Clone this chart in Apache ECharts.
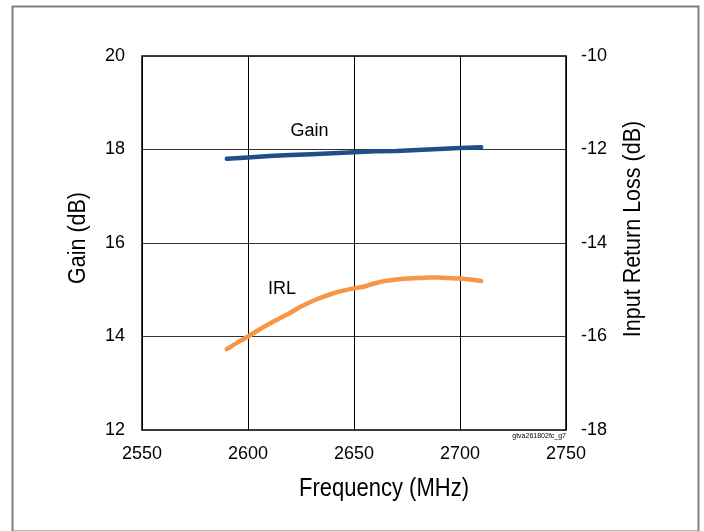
<!DOCTYPE html>
<html>
<head>
<meta charset="utf-8">
<script src="https://cdn.jsdelivr.net/npm/echarts@6/dist/echarts.min.js"></script>
<style>
  html, body { margin: 0; padding: 0; background: #fff; }
  #main { width: 704px; height: 531px; }
</style>
</head>
<body>
<div id="main"></div>
<script>
// Frequency (MHz) -> Gain (dB), left axis
var gainFreq = [2590, 2600, 2610, 2620, 2630, 2640, 2650, 2660, 2670, 2680, 2690, 2700, 2710];
var gainVal  = [17.80, 17.83, 17.86, 17.88, 17.90, 17.92, 17.94, 17.96, 17.97, 17.99, 18.01, 18.03, 18.05];

// Frequency (MHz) -> Input Return Loss (dB), right axis
var irlFreq = [2590, 2595, 2600, 2605, 2610, 2615, 2620, 2625, 2630, 2635, 2640, 2645, 2650,
               2655, 2660, 2665, 2670, 2675, 2680, 2685, 2690, 2695, 2700, 2705, 2710];
var irlVal  = [-16.27, -16.13, -16.00, -15.86, -15.73, -15.61, -15.49, -15.36, -15.25, -15.16, -15.08, -15.02, -14.97,
               -14.93, -14.86, -14.81, -14.78, -14.76, -14.75, -14.74, -14.74, -14.75, -14.76, -14.78, -14.81];

function pairs(xs, ys) {
    return xs.map(function (x, i) { return [x, ys[i]]; });
}

var font = 'Liberation Sans, Arial, sans-serif';
var myChart = echarts.init(document.getElementById('main'));

var option = {
    backgroundColor: '#fff',
    animation: false,
    grid: {
        left: 142,
        right: 138,
        top: 56,
        bottom: 101,
        show: true,
        borderColor: '#000',
        borderWidth: 1.5
    },
    xAxis: {
        type: 'value',
        min: 2550,
        max: 2750,
        interval: 50,
        axisLine: { show: false },
        axisTick: { show: false },
        axisLabel: {
            fontFamily: font, fontSize: 18, color: '#000', margin: 15,
            formatter: function (v) { return String(v); }
        },
        splitLine: { show: true, lineStyle: { color: '#000', width: 1 } }
    },
    yAxis: [
        {
            type: 'value',
            min: 12,
            max: 20,
            interval: 2,
            axisLine: { show: false },
            axisTick: { show: false },
            axisLabel: { fontFamily: font, fontSize: 18, color: '#000', margin: 17 },
            splitLine: { show: true, lineStyle: { color: '#333', width: 1 } }
        },
        {
            type: 'value',
            min: -18,
            max: -10,
            interval: 2,
            axisLine: { show: false },
            axisTick: { show: false },
            axisLabel: { fontFamily: font, fontSize: 18, color: '#000', margin: 15 },
            splitLine: { show: false }
        }
    ],
    graphic: [
        {
            type: 'rect',
            left: 10, top: 4,
            shape: { width: 686, height: 525 },
            style: { fill: 'none', stroke: '#7f7f7f', lineWidth: 2 },
            silent: true
        },
        {
            type: 'text',
            right: 138, top: 433,
            style: { text: 'gtva261802fc_g7', font: '7px ' + font, fill: '#000' }
        },
        // axis titles
        {
            type: 'text',
            x: 384, y: 489, scaleY: 1.2,
            style: { text: 'Frequency (MHz)', font: '22px ' + font, fill: '#000',
                     textAlign: 'center', textVerticalAlign: 'middle' }
        },
        {
            type: 'text',
            x: 78, y: 238, rotation: Math.PI / 2, scaleY: 1.1,
            style: { text: 'Gain (dB)', font: '21.5px ' + font, fill: '#000',
                     textAlign: 'center', textVerticalAlign: 'middle' }
        },
        {
            type: 'text',
            x: 633, y: 229, rotation: Math.PI / 2, scaleY: 1.1,
            style: { text: 'Input Return Loss (dB)', font: '21.5px ' + font, fill: '#000',
                     textAlign: 'center', textVerticalAlign: 'middle' }
        }
    ],
    series: [
        {
            name: 'Gain',
            type: 'line',
            yAxisIndex: 0,
            symbol: 'none',
            lineStyle: { color: '#1f4e89', width: 4.5, cap: 'round' },
            data: pairs(gainFreq, gainVal),
            markPoint: {
                symbol: 'circle',
                symbolSize: 0,
                label: { show: true, formatter: 'Gain', fontFamily: font, fontSize: 18, color: '#000' },
                data: [{ coord: [2629, 18.40] }]
            }
        },
        {
            name: 'IRL',
            type: 'line',
            yAxisIndex: 1,
            symbol: 'none',
            smooth: 0.3,
            lineStyle: { color: '#f79646', width: 4.5, cap: 'round' },
            data: pairs(irlFreq, irlVal),
            markPoint: {
                symbol: 'circle',
                symbolSize: 0,
                label: { show: true, formatter: 'IRL', fontFamily: font, fontSize: 18, color: '#000' },
                data: [{ coord: [2616, -14.98] }]
            }
        }
    ]
};

myChart.setOption(option);
</script>
</body>
</html>
